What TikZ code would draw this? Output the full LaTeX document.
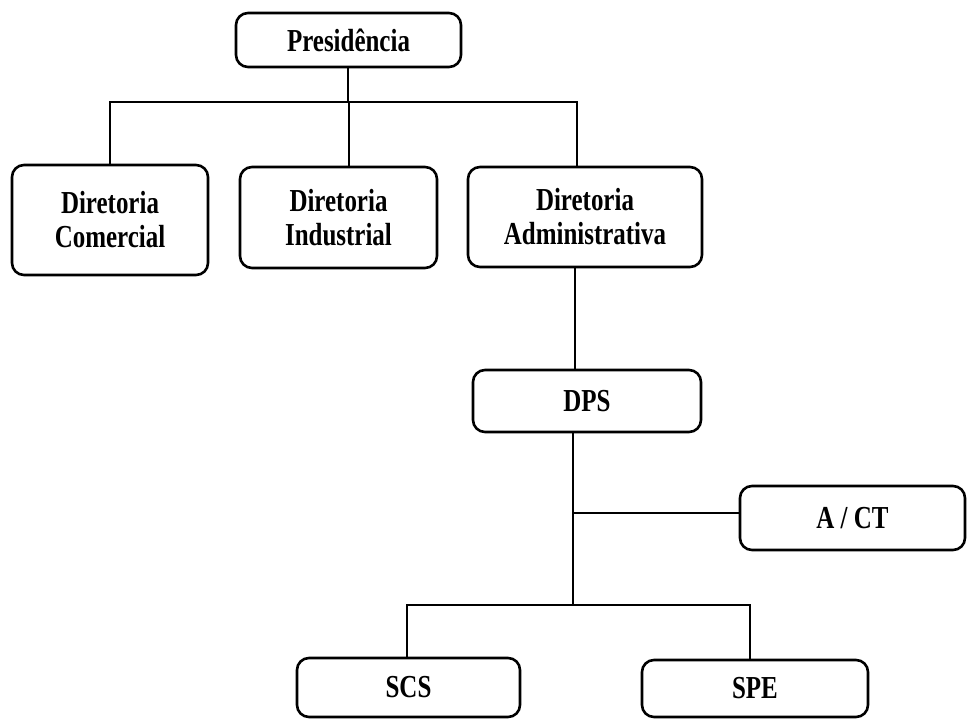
\documentclass[tikz,border=0pt]{standalone}
\usepackage{fontspec}
\setmainfont{Liberation Serif}[FakeStretch=0.78]
\begin{document}
\begin{tikzpicture}[x=1pt,y=-1pt,
  box/.style={draw=black, line width=2.6pt, rounded corners=12pt, align=center,
    inner sep=0pt, font=\fontsize{32}{34}\selectfont\bfseries},
  conn/.style={draw=black, line width=2pt}]
\useasboundingbox (0,0) rectangle (967,720);
\node[box, minimum width=225pt, minimum height=54pt] (pres) at (348.5,40) {Presidência};
\node[box, minimum width=196pt, minimum height=110pt] (com) at (110,220) {Diretoria\\Comercial};
\node[box, minimum width=197pt, minimum height=101pt] (ind) at (338.5,217.5) {Diretoria\\Industrial};
\node[box, minimum width=234pt, minimum height=100pt] (adm) at (585,217) {Diretoria\\Administrativa};
\node[box, minimum width=228pt, minimum height=62pt] (dps) at (587,401) {DPS};
\node[box, minimum width=225pt, minimum height=64pt] (act) at (852.5,518) {A / CT};
\node[box, minimum width=223pt, minimum height=59pt] (scs) at (408.5,687.5) {SCS};
\node[box, minimum width=226pt, minimum height=57pt] (spe) at (755,688.5) {SPE};
% junctions
\coordinate (jp) at (348,102);
\coordinate (jc) at (110,102);
\coordinate (ji) at (349,102);
\coordinate (ja) at (577,102);
\coordinate (jd) at (575,300);
\coordinate (jt) at (573,513);
\coordinate (jb) at (573,605);
\coordinate (js) at (407,605);
\coordinate (je) at (750,605);
\draw[conn] (jp |- pres.south) -- (jp);
\draw[conn] (jc |- com.north) -- (jc) -- (ja) -- (ja |- adm.north);
\draw[conn] (ji) -- (ji |- ind.north);
\draw[conn] (jd |- adm.south) -- (jd |- dps.north);
\draw[conn] (jt |- dps.south) -- (jb);
\draw[conn] (jt) -- (jt -| act.west);
\draw[conn] (js |- scs.north) -- (js) -- (je) -- (je |- spe.north);
\end{tikzpicture}
\end{document}
